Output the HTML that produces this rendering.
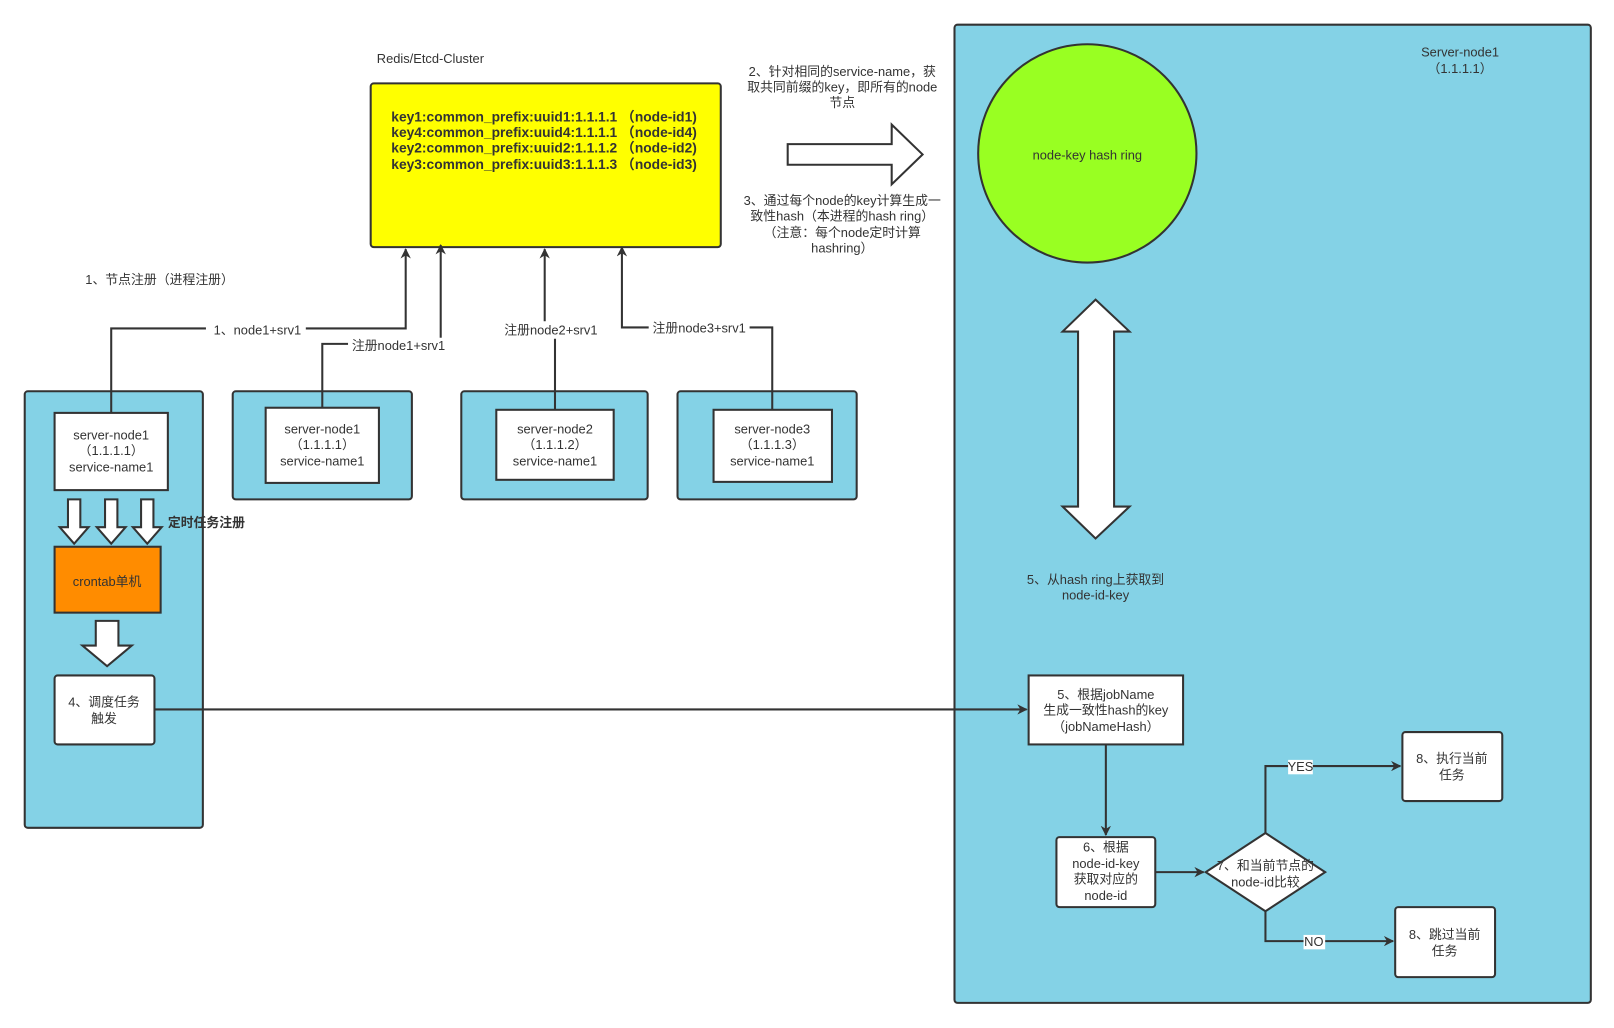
<!DOCTYPE html>
<html><head><meta charset="utf-8"><style>html,body{margin:0;padding:0;background:#fff}svg{display:block}text{font-family:"Liberation Sans","Noto Sans CJK SC",sans-serif;font-size:12.5px;fill:#333}</style></head>
<body>
<svg width="1614" height="1028" viewBox="0 0 1567.5 998.4" xmlns="http://www.w3.org/2000/svg">
<defs><marker id="a" markerWidth="10" markerHeight="10" refX="9" refY="5" orient="auto" markerUnits="userSpaceOnUse"><path d="M0,0 L10,5 L0,10 L3,5 z" fill="#333"/></marker></defs>
<g stroke="#333" stroke-width="2">
<rect x="927" y="24" width="618" height="950" rx="3" fill="#84D2E6"/>
<rect x="24" y="380" width="173" height="424" rx="3" fill="#84D2E6"/>
<rect x="226" y="380" width="174" height="105" rx="3" fill="#84D2E6"/>
<rect x="448" y="380" width="181" height="105" rx="3" fill="#84D2E6"/>
<rect x="658" y="380" width="174" height="105" rx="3" fill="#84D2E6"/>
<rect x="360" y="81" width="340" height="159" rx="3" fill="#FFFF00"/>
<circle cx="1056" cy="149" r="106" fill="#99FF22"/>
<rect x="53" y="401" width="110" height="75" fill="#fff"/>
<rect x="258" y="396" width="110" height="73" fill="#fff"/>
<rect x="482" y="398" width="114" height="68" fill="#fff"/>
<rect x="693" y="398" width="115" height="70" fill="#fff"/>
<rect x="53" y="531" width="103" height="64" fill="#FF8C00"/>
<rect x="53" y="656" width="97" height="67" rx="3" fill="#fff"/>
<rect x="999" y="656" width="150" height="67" fill="#fff"/>
<rect x="1026" y="813" width="96" height="68" rx="3" fill="#fff"/>
<rect x="1362" y="711" width="97" height="67" rx="3" fill="#fff"/>
<rect x="1355" y="881" width="97" height="68" rx="3" fill="#fff"/>
<path d="M1229,809 L1287,847 L1229,885 L1171,847 z" fill="#fff"/>
</g>
<g stroke="#333" stroke-width="2" fill="#fff">
<path d="M765,140 H866 V121 L896,150 L866,179 V160 H765 z"/>
<path d="M1064,291 L1097,322 H1082 V492 H1097 L1064,523 L1032,492 H1047 V322 H1032 z"/>
<path d="M66,485 H78 V512 H86 L72,528 L58,512 H66 z"/>
<path d="M102,485 H114 V512 H122 L108,528 L94,512 H102 z"/>
<path d="M137,485 H149 V512 H157 L143,528 L129,512 H137 z"/>
<path d="M93,603 H115 V627 H128 L104,647 L80,627 H93 z"/>
</g>
<g stroke="#333" stroke-width="2" fill="none">
<path d="M108,401 V319 H394 V242" marker-end="url(#a)"/>
<path d="M313,396 V334 H428 V238" marker-end="url(#a)"/>
<path d="M539,398 V321" />
<path d="M529,312 V242" marker-end="url(#a)"/>
<path d="M750,398 V318 H604 V240" marker-end="url(#a)"/>
<path d="M150,689 H997" marker-end="url(#a)"/>
<path d="M1074,723 V811" marker-end="url(#a)"/>
<path d="M1122,847 H1169" marker-end="url(#a)"/>
<path d="M1229,809 V744 H1360" marker-end="url(#a)"/>
<path d="M1229,885 V914 H1353" marker-end="url(#a)"/>
</g>
<g text-anchor="middle">
<rect x="200" y="313" width="97" height="15" fill="#fff"/><text x="250" y="325">1、node1+srv1</text>
<rect x="338" y="328" width="98" height="15" fill="#fff"/><text x="387" y="340">注册node1+srv1</text>
<rect x="486" y="313" width="98" height="16" fill="#fff"/><text x="535" y="325">注册node2+srv1</text>
<rect x="630" y="311" width="98" height="15" fill="#fff"/><text x="679" y="323">注册node3+srv1</text>
<text x="155" y="276">1、节点注册（进程注册）</text>
<text x="418" y="61">Redis/Etcd-Cluster</text>
<text x="818" y="74">2、针对相同的service-name，获</text>
<text x="818" y="89">取共同前缀的key，即所有的node</text>
<text x="818" y="104">节点</text>
<text x="818" y="199">3、通过每个node的key计算生成一</text>
<text x="818" y="214">致性hash（本进程的hash ring）</text>
<text x="818" y="230">（注意：每个node定时计算</text>
<text x="818" y="245">hashring）</text>
<text x="1418" y="55">Server-node1</text>
<text x="1418" y="71">（1.1.1.1）</text>
<text x="1056" y="155">node-key hash ring</text>
<text x="1064" y="567">5、从hash ring上获取到</text>
<text x="1064" y="582">node-id-key</text>
<text x="108" y="427">server-node1</text><text x="108" y="442">（1.1.1.1）</text><text x="108" y="458">service-name1</text>
<text x="313" y="421">server-node1</text><text x="313" y="436">（1.1.1.1）</text><text x="313" y="452">service-name1</text>
<text x="539" y="421">server-node2</text><text x="539" y="436">（1.1.1.2）</text><text x="539" y="452">service-name1</text>
<text x="750" y="421">server-node3</text><text x="750" y="436">（1.1.1.3）</text><text x="750" y="452">service-name1</text>
<text x="104" y="569">crontab单机</text>
<text x="101" y="686">4、调度任务</text><text x="101" y="702">触发</text>
<text x="1074" y="679">5、根据jobName</text><text x="1074" y="694">生成一致性hash的key</text><text x="1074" y="710">（jobNameHash）</text>
<text x="1074" y="827">6、根据</text><text x="1074" y="843">node-id-key</text><text x="1074" y="858">获取对应的</text><text x="1074" y="874">node-id</text>
<text x="1229" y="845">7、和当前节点的</text><text x="1229" y="861">node-id比较</text>
<text x="1410" y="741">8、执行当前</text><text x="1410" y="757">任务</text>
<text x="1403" y="912">8、跳过当前</text><text x="1403" y="928">任务</text>
<rect x="1251" y="738" width="24" height="14" fill="#fff"/><text x="1263" y="749">YES</text>
<rect x="1266" y="908" width="21" height="14" fill="#fff"/><text x="1276" y="919">NO</text>
</g>
<text x="163" y="512" font-weight="bold">定时任务注册</text>
<g font-weight="bold">
<text x="380" y="118" font-weight="bold" style="font-size:13.4px">key1:common_prefix:uuid1:1.1.1.1 （node-id1)</text>
<text x="380" y="133" font-weight="bold" style="font-size:13.4px">key4:common_prefix:uuid4:1.1.1.1 （node-id4)</text>
<text x="380" y="148" font-weight="bold" style="font-size:13.4px">key2:common_prefix:uuid2:1.1.1.2 （node-id2)</text>
<text x="380" y="164" font-weight="bold" style="font-size:13.4px">key3:common_prefix:uuid3:1.1.1.3 （node-id3)</text>
</g>
</svg>
</body></html>
